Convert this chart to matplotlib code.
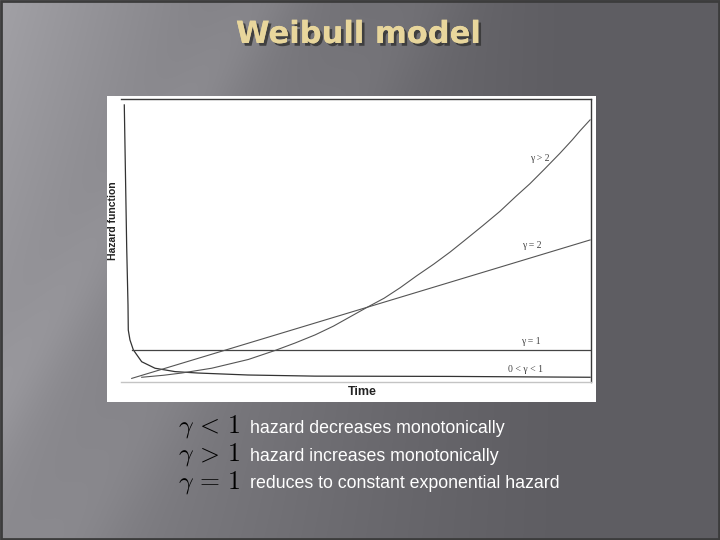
import numpy as np
import matplotlib
matplotlib.use("Agg")
import matplotlib.pyplot as plt
from matplotlib.patches import Rectangle
import matplotlib.patheffects as pe

# ---------------- data ----------------
t_dec = [0.07, 0.121, 0.149, 0.155, 0.191, 0.262, 0.44, 0.723, 1.149, 1.638, 2.702, 4.128, 7.0, 9.98]
h_dec = [9.79, 4.76, 2.71, 1.82, 1.47, 1.12, 0.70, 0.47, 0.35, 0.30, 0.23, 0.19, 0.18, 0.15]

t_const = [0.23, 10.0]
h_const = [1.12, 1.12]

t_lin = [0.228, 9.98]
h_lin = [0.11, 5.01]

t_cvx = [0.44, 0.90, 1.29, 1.93, 2.71, 3.28, 3.70, 4.13, 4.52, 5.23, 5.60, 5.94, 6.29,
         6.65, 7.00, 7.30, 7.70, 8.06, 8.40, 8.70, 9.00, 9.34, 9.60, 9.77, 9.98]
h_cvx = [0.15, 0.22, 0.30, 0.47, 0.78, 1.10, 1.36, 1.65, 1.96, 2.62, 2.95, 3.32, 3.74,
         4.15, 4.58, 4.98, 5.52, 6.02, 6.55, 7.00, 7.50, 8.08, 8.55, 8.88, 9.26]

curve_labels = ["γ > 2", "γ = 2", "γ = 1", "0 < γ < 1"]
label_pos = [(8.9, 7.9), (8.75, 4.8), (8.72, 1.41), (8.6, 0.43)]

title = "Weibull model"
rows_math = [r"$\gamma\, <\, 1$", r"$\gamma\, >\, 1$", r"$\gamma\, =\, 1$"]
rows_text = ["hazard decreases monotonically",
             "hazard increases monotonically",
             "reduces to constant exponential hazard"]

W, H = 720, 540
plt.rcParams["mathtext.fontset"] = "cm"
fig = plt.figure(figsize=(7.2, 5.4), dpi=100)

def fx(x):
    return x / W

def fy(y):
    return 1 - y / H

# ---------------- background gradient ----------------
bg = fig.add_axes([0, 0, 1, 1])
bg.set_axis_off()
yy, xx = np.mgrid[0:H, 0:W]
xn = xx / W
yn = yy / H
light = np.clip(1 - xn / 0.8, 0, 1) ** 1.3 * (1 - 0.35 * yn)
v = 94 + 68 * light
d = (xx * 1.0 + yy * 0.65)
v += 8 * np.exp(-((d - 260) / 40) ** 2) + 6 * np.exp(-((d - 420) / 50) ** 2)
v = np.clip(v, 0, 255)
img = np.stack([v, v - 1, v + 4], axis=-1) / 255.0
img = np.clip(img, 0, 1)
bg.imshow(img, extent=[0, W, H, 0], aspect="auto")
bg.set_xlim(0, W)
bg.set_ylim(H, 0)
bg.add_patch(Rectangle((0.5, 0.5), W - 1.5, H - 1.5, fill=False, ec="#3c3c3c", lw=2))

# white panel
fig.patches.append(Rectangle((fx(107), fy(402)), fx(596) - fx(107), fy(96) - fy(402),
                             transform=fig.transFigure, fc="white", ec="none", zorder=1))

# ---------------- main chart ----------------
ax = fig.add_axes([fx(121), fy(381.5), fx(591) - fx(121), fy(99) - fy(381.5)], zorder=2)
ax.set_facecolor("none")
ax.set_xlim(0, 10)
ax.set_ylim(0, 10)
ax.set_xticks([])
ax.set_yticks([])
ax.spines["left"].set_visible(False)
ax.spines["top"].set_color("#3a3a3a")
ax.spines["right"].set_color("#3a3a3a")
ax.spines["bottom"].set_color("#c4c4c4")
for s in ["top", "right", "bottom"]:
    ax.spines[s].set_linewidth(1.0)

ax.plot(t_dec, h_dec, color="#333333", lw=0.9)
ax.plot(t_const, h_const, color="#444444", lw=0.9)
ax.plot(t_lin, h_lin, color="#555555", lw=0.8)
ax.plot(t_cvx, h_cvx, color="#555555", lw=0.8)

for lab, (x, y) in zip(curve_labels, label_pos):
    ax.text(x, y, lab, fontsize=7, color="#444444", ha="center", va="center",
            family="Liberation Serif")

fig.text(fx(113), fy(221), "Hazard function", rotation=90, ha="center", va="center",
         fontsize=7.5, fontweight="bold", color="#222222",
         family=["Liberation Sans Narrow", "Liberation Sans"], zorder=3)
fig.text(fx(362), fy(392), "Time", ha="center", va="center", fontsize=9,
         fontweight="bold", color="#222222", family="Liberation Sans", zorder=3)

# ---------------- title ----------------
fig.text(fx(358), fy(43), title, ha="center", va="baseline", fontsize=22,
         fontweight="bold", color="#e8d69c", family="DejaVu Sans", zorder=3,
         path_effects=[pe.withSimplePatchShadow(offset=(2, -2), shadow_rgbFace="#363636", alpha=0.85),
                       pe.Normal()])

# ---------------- bottom text ----------------
baselines = [433, 461, 488]
for m, tx, b in zip(rows_math, rows_text, baselines):
    fig.text(fx(178), fy(b), m, fontsize=18.5, color="black", va="baseline", ha="left", zorder=3)
    fig.text(fx(250), fy(b), tx, fontsize=12.8, color="white", va="baseline", ha="left",
             family="Liberation Sans", zorder=3)

fig.savefig("out.png", dpi=100)
